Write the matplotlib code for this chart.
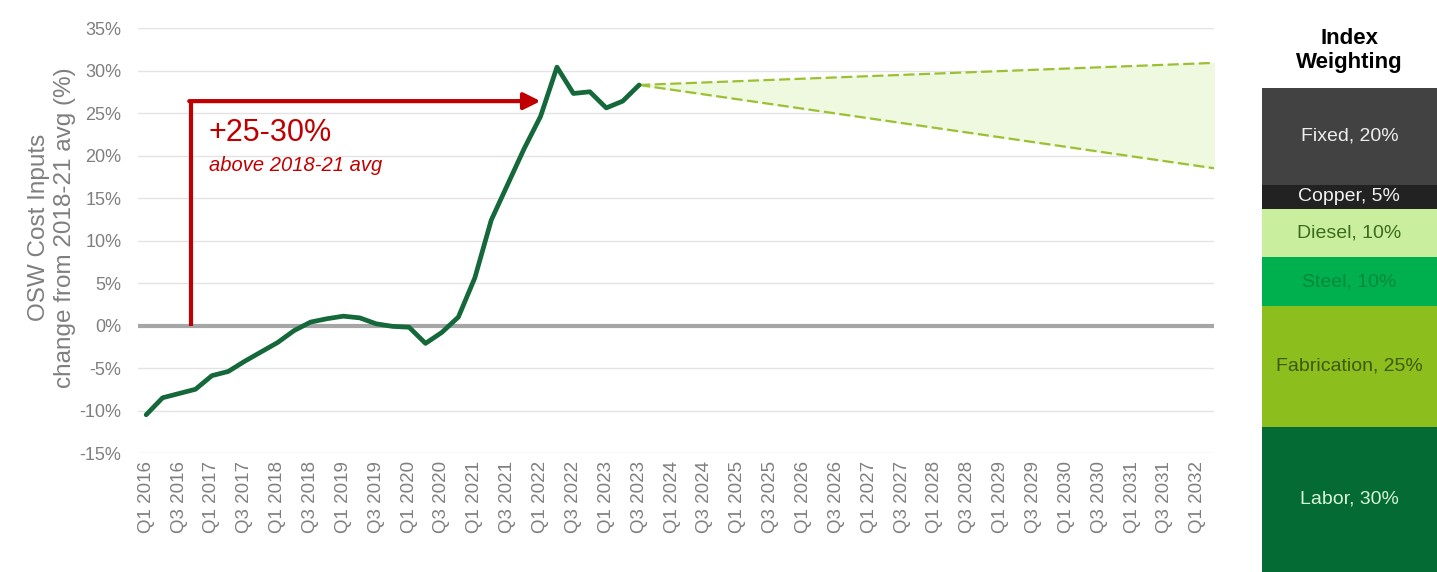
import matplotlib
matplotlib.use("Agg")
import matplotlib.pyplot as plt
from matplotlib.ticker import FuncFormatter

plt.rcParams["font.family"] = ["Liberation Sans", "DejaVu Sans"]

# quarterly categories Q1 2016 .. Q2 2032
quarters = [f"Q{q} {y}" for y in range(2016, 2033) for q in range(1, 5)][:66]
tick_labels = quarters[::2]

# historical index (% change vs 2018-21 avg), Q1 2016 .. Q3 2023
history = [-10.5, -8.5, -8.0, -7.5, -5.9, -5.4, -4.2, -3.1, -2.0, -0.6,
           0.4, 0.8, 1.1, 0.9, 0.2, -0.1, -0.2, -2.1, -0.8, 1.0,
           5.6, 12.4, 16.6, 20.8, 24.6, 30.4, 27.3, 27.5, 25.6, 26.4, 28.3]

# forecast band: start (Q3 2023) and end (Q2 2032)
band_x = [30, 65]
band_high = [28.3, 30.9]
band_low = [28.3, 18.5]

# index weighting
weight_names = ["Labor", "Fabrication", "Steel", "Diesel", "Copper", "Fixed"]
weights = [30, 25, 10, 10, 5, 20]
weight_colors = ["#036b33", "#8cbf1e", "#00b04f", "#c9ee9e", "#222222", "#424242"]
weight_text = ["#d8f5d8", "#3d5a0a", "#06883a", "#3d6a1c", "#f2f2f2", "#eeeeee"]

arrow_x0, arrow_x1, arrow_y = 2.7, 24.0, 26.4

GRAY = "#7f7f7f"

fig = plt.figure(figsize=(14.37, 5.72), dpi=100)
ax = fig.add_axes([0.096, 0.208, 0.749, 0.743])

ax.fill_between(band_x, band_low, band_high, color="#eff9df", zorder=1)
ax.plot(band_x, band_high, color="#9cbf34", lw=1.6, ls=(0, (5, 2)), zorder=2)
ax.plot(band_x, band_low, color="#9cbf34", lw=1.6, ls=(0, (5, 2)), zorder=2)

ax.axhline(0, color="#a6a6a6", lw=3, zorder=2)
ax.plot(range(len(history)), history, color="#14683a", lw=3.4, zorder=4,
        solid_joinstyle="round", solid_capstyle="round")

# red bracket arrow
ax.plot([arrow_x0, arrow_x0], [0, arrow_y], color="#c00000", lw=3, zorder=3,
        solid_capstyle="butt")
ax.annotate("", xy=(arrow_x1, arrow_y), xytext=(arrow_x0 - 0.08, arrow_y),
            arrowprops=dict(arrowstyle="-|>,head_length=1.0,head_width=0.5",
                            color="#c00000", lw=3, shrinkA=0, shrinkB=0),
            zorder=3)
ax.text(3.8, 22.7, "+25-30%", color="#c00000", fontsize=22, va="center")
ax.text(3.8, 18.8, "above 2018-21 avg", color="#c00000", fontsize=14.5,
        style="italic", va="center")

ax.set_xlim(-0.5, 65)
ax.set_ylim(-15, 35)
ax.set_yticks(range(-15, 36, 5))
ax.yaxis.set_major_formatter(FuncFormatter(lambda v, _: f"{v:.0f}%"))
ax.set_xticks(range(0, 66, 2))
ax.set_xticklabels(tick_labels, rotation=90)
ax.tick_params(length=0, colors=GRAY, labelsize=13.5)
ax.tick_params(axis="x", pad=6)
ax.tick_params(axis="y", labelsize=13, pad=12)
ax.grid(axis="y", color="#e3e3e3", lw=1)
ax.set_axisbelow(True)
for s in ax.spines.values():
    s.set_visible(False)
ax.set_ylabel("OSW Cost Inputs\nchange from 2018-21 avg (%)", color=GRAY,
              fontsize=17.5, labelpad=8)
ax.yaxis.set_label_coords(-0.058, 0.53)

# weighting bar
bx = fig.add_axes([0.878, 0.0, 0.122, 0.846])
bottom = 0
for name, w, c, tc in zip(weight_names, weights, weight_colors, weight_text):
    bx.bar(0, w, bottom=bottom, width=1, color=c)
    bx.text(0, bottom + w / 2, f"{name}, {w}%", ha="center", va="center",
            color=tc, fontsize=14)
    bottom += w
bx.set_xlim(-0.5, 0.5)
bx.set_ylim(0, 100)
bx.axis("off")
fig.text(0.939, 0.912, "Index\nWeighting", ha="center", va="center",
         fontsize=16, fontweight="bold", linespacing=1.15)

fig.savefig("out.png", dpi=100)
